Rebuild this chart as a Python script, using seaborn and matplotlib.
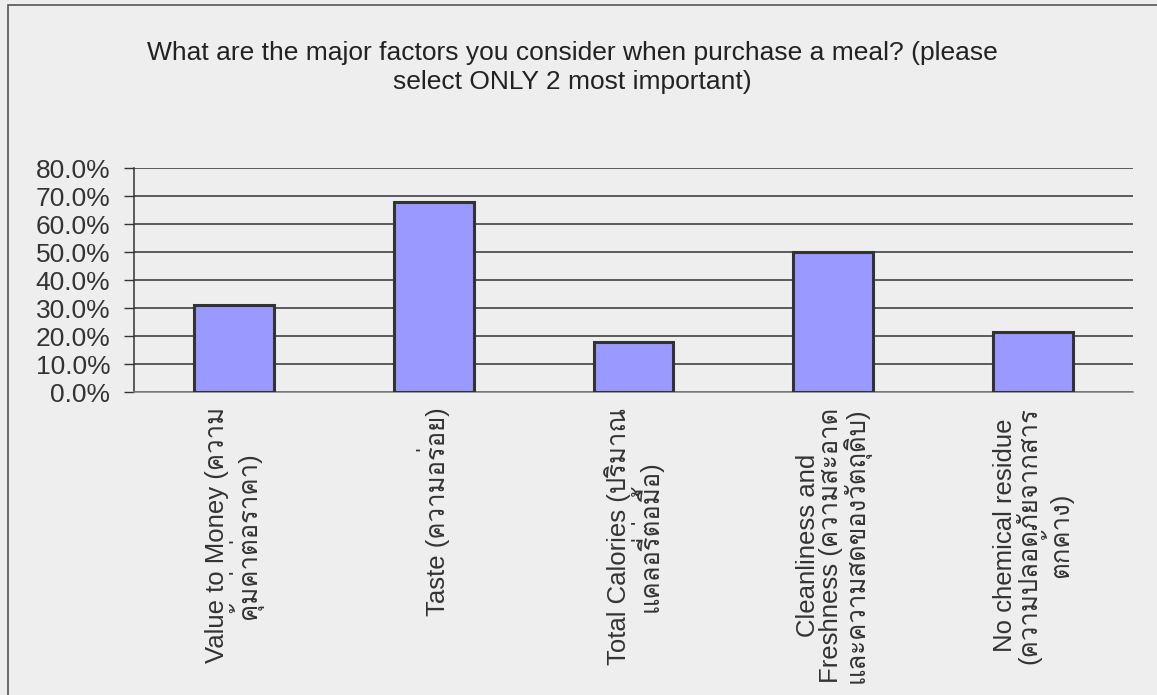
import matplotlib
matplotlib.use("Agg")
import matplotlib.pyplot as plt
import seaborn as sns
from matplotlib import font_manager
from matplotlib.ft2font import FT2Font
from matplotlib.patches import Rectangle
from matplotlib.ticker import PercentFormatter, MultipleLocator, FixedLocator

# data
categories = [
    "Value to Money (ความ\nคุ้มค่าต่อราคา)",
    "Taste (ความอร่อย)",
    "Total Calories (ปริมาณ\nแคลอรี่ต่อมื้อ)",
    "Cleanliness and\nFreshness (ความสะอาด\nและความสดของวัตถุดิบ)",
    "No chemical residue\n(ความปลอดภัยจากสาร\nตกค้าง)",
]
shares = [0.310, 0.680, 0.180, 0.500, 0.213]
title = ("What are the major factors you consider when purchase a meal? (please\n"
         "select ONLY 2 most important)")

# look for any installed font that can draw Thai
thai_font = None
for f in font_manager.fontManager.ttflist:
    try:
        if FT2Font(f.fname).get_char_index(ord("ก")):
            thai_font = f.name
            break
    except Exception:
        pass

sns.set_style("white")
families = ["Liberation Sans", "DejaVu Sans"]
if thai_font:
    families.insert(1, thai_font)
plt.rcParams["font.family"] = families

bg = "#EEEEEE"
ink = "#333333"

fig = plt.figure(figsize=(11.57, 6.95), dpi=100, facecolor=bg)
ax = fig.add_axes([134 / 1157, 1 - 392 / 695, (1133 - 134) / 1157, (392 - 168) / 695])
ax.set_facecolor(bg)

sns.barplot(x=list(range(len(shares))), y=shares, color="#9999FF", saturation=1,
            edgecolor=ink, linewidth=2.2, width=0.4, ax=ax, zorder=3)

ax.set_xlim(-0.5, len(shares) - 0.5)
ax.set_ylim(0, 0.8)
ax.yaxis.set_major_locator(MultipleLocator(0.1))
ax.yaxis.set_major_formatter(PercentFormatter(1.0, decimals=1))
ax.yaxis.grid(True, color=ink, linewidth=1.1, zorder=0)
ax.set_axisbelow(True)

ax.set_xticks(range(len(categories)))
ax.set_xticklabels(categories, rotation=90, multialignment="center",
                   fontsize=18.5, color=ink, linespacing=0.95)
ax.xaxis.set_minor_locator(FixedLocator([i - 0.5 for i in range(len(categories) + 1)]))
ax.tick_params(axis="x", which="major", length=0, pad=11)
ax.tick_params(axis="x", which="minor", length=8, width=1, color="#808080", direction="out")
ax.tick_params(axis="y", which="major", length=7, width=1, color=ink, pad=10,
               labelsize=19, labelcolor=ink, direction="out", left=True)
ax.set_xlabel("")
ax.set_ylabel("")

for side in ["top", "right"]:
    ax.spines[side].set_visible(False)
ax.spines["left"].set_color(ink)
ax.spines["left"].set_linewidth(1.1)
ax.spines["bottom"].set_color("#808080")
ax.spines["bottom"].set_linewidth(1.1)

fig.text(572 / 1157, 1 - 41 / 695, title, ha="center", va="top",
         fontsize=19, color="#222222", linespacing=1.25)

# outer chart border (only left and top edges fall inside the image)
fig.patches.append(Rectangle((8 / 1157, -0.05), 1.1, 1 - 5 / 695 + 0.05,
                             transform=fig.transFigure, fill=False,
                             edgecolor="#555555", linewidth=1.2))

fig.savefig("out.png", dpi=100, facecolor=bg)
